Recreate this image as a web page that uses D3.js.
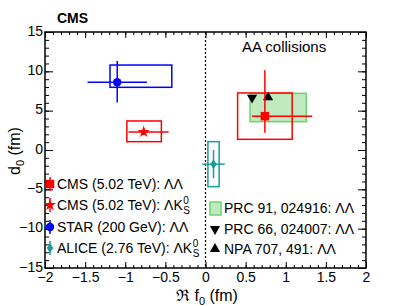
<!DOCTYPE html>
<html>
<head>
<meta charset="utf-8">
<script src="https://cdn.jsdelivr.net/npm/d3@7"></script>
<style>
  body { margin: 0; background: #fff; }
  svg text { font-family: "Liberation Sans", Arial, sans-serif; fill: #000; }
</style>
</head>
<body>
<svg id="chart" width="407" height="306"></svg>
<script>
// measurements, one entry per experiment
var labels  = ["CMS (5.02 TeV): ΛΛ", "CMS (5.02 TeV): ΛK", "STAR (200 GeV): ΛΛ", "ALICE (2.76 TeV): ΛK"];
var hasK0s  = [false, true, false, true];
var colors  = ["#ff0000", "#ff0000", "#0000ff", "#1a9c9c"];
var symbols = ["square", "star", "circle", "diamond"];
var f0      = [0.74, -0.77, -1.10, 0.10];
var d0      = [4.3, 2.3, 8.6, -1.8];
var f0StatLo = [0.16, 0.19, 0.37, 0.14];
var f0StatHi = [0.59, 0.31, 0.37, 0.14];
var d0StatLo = [2.1, 0.4, 2.55, 1.8];
var d0StatHi = [5.85, 0.5, 2.7, 1.8];
var boxF0Min = [0.40, -0.98, -1.19, 0.03];
var boxF0Max = [1.08, -0.55, -0.42, 0.17];
var boxD0Min = [1.36, 1.06, 7.97, -4.66];
var boxD0Max = [7.25, 3.69, 10.8, 1.06];

// model predictions
var modelLabels = ["PRC 91, 024916: ΛΛ", "PRC 66, 024007: ΛΛ", "NPA 707, 491: ΛΛ"];
var bandF0 = [0.555, 1.256];
var bandD0 = [3.6, 7.2];
var triF0 = [0.58, 0.78];
var triD0 = [6.65, 6.7];

// axis ticks
var xMajor = [-2, -1.5, -1, -0.5, 0, 0.5, 1, 1.5, 2];
var yMajor = [-15, -10, -5, 0, 5, 10, 15];

var svg = d3.select("#chart");
var x = d3.scaleLinear().domain([-2, 2]).range([45, 366]);
var y = d3.scaleLinear().domain([-15, 15]).range([268, 32]);

function fmt(d) { return (d < 0 ? "\u2212" : "") + Math.abs(d); }

var xMinor = d3.range(-20, 21).map(function (i) { return i / 10; });
var yMinor = d3.range(-15, 16);

// ticks on all four sides, pointing inward
svg.append("g").attr("transform", "translate(0,268)")
    .call(d3.axisBottom(x).tickValues(xMinor).tickSize(-3).tickFormat(""));
svg.append("g").attr("transform", "translate(0,268)")
    .call(d3.axisBottom(x).tickValues(xMajor).tickSize(-6).tickPadding(4).tickFormat(fmt));
svg.append("g").attr("transform", "translate(0,32)")
    .call(d3.axisTop(x).tickValues(xMinor).tickSize(-3).tickFormat(""));
svg.append("g").attr("transform", "translate(0,32)")
    .call(d3.axisTop(x).tickValues(xMajor).tickSize(-6).tickFormat(""));
svg.append("g").attr("transform", "translate(45,0)")
    .call(d3.axisLeft(y).tickValues(yMinor).tickSize(-4).tickFormat(""));
var yAx = svg.append("g").attr("transform", "translate(45,0)")
    .call(d3.axisLeft(y).tickValues(yMajor).tickSize(-8).tickPadding(2).tickFormat(fmt));
yAx.selectAll("text").attr("dy", "0.22em");
svg.append("g").attr("transform", "translate(366,0)")
    .call(d3.axisRight(y).tickValues(yMinor).tickSize(-4).tickFormat(""));
svg.append("g").attr("transform", "translate(366,0)")
    .call(d3.axisRight(y).tickValues(yMajor).tickSize(-8).tickFormat(""));

svg.selectAll(".domain").remove();
svg.selectAll(".tick line").attr("stroke", "#000").attr("stroke-width", 1);
svg.selectAll(".tick text").style("font-size", "14px").attr("fill", "#000");

svg.append("rect")
    .attr("x", x(-2)).attr("y", y(15))
    .attr("width", x(2) - x(-2)).attr("height", y(-15) - y(15))
    .attr("fill", "none").attr("stroke", "#000").attr("stroke-width", 1.5);

// dotted line at f0 = 0
svg.append("line")
    .attr("x1", x(0)).attr("x2", x(0)).attr("y1", y(15)).attr("y2", y(-15))
    .attr("stroke", "#000").attr("stroke-width", 1.2).attr("stroke-dasharray", "2,2");

// model band
svg.append("rect")
    .attr("x", x(bandF0[0])).attr("y", y(bandD0[1]))
    .attr("width", x(bandF0[1]) - x(bandF0[0]))
    .attr("height", y(bandD0[0]) - y(bandD0[1]))
    .attr("fill", "#bfeabf").attr("stroke", "#70d070").attr("stroke-width", 1.5);

// model triangles
svg.append("path")
    .attr("d", d3.symbol(d3.symbolTriangle, 45)())
    .attr("transform", "translate(" + x(triF0[0]) + "," + y(triD0[0]) + ") rotate(180)");
svg.append("path")
    .attr("d", d3.symbol(d3.symbolTriangle, 45)())
    .attr("transform", "translate(" + x(triF0[1]) + "," + y(triD0[1]) + ")");

function markerPath(s) {
    if (s == "square") return d3.symbol(d3.symbolSquare, 72)();
    if (s == "star") return d3.symbol(d3.symbolStar, 45)();
    if (s == "circle") return d3.symbol(d3.symbolCircle, 56)();
    return "M0,-5L3.2,0L0,5L-3.2,0Z";
}

var pts = d3.range(labels.length);

// systematic boxes
svg.append("g").selectAll("rect")
    .data(pts).enter().append("rect")
    .attr("x", function (i) { return x(boxF0Min[i]); })
    .attr("y", function (i) { return y(boxD0Max[i]); })
    .attr("width", function (i) { return x(boxF0Max[i]) - x(boxF0Min[i]); })
    .attr("height", function (i) { return y(boxD0Min[i]) - y(boxD0Max[i]); })
    .attr("fill", "none")
    .attr("stroke", function (i) { return colors[i]; })
    .attr("stroke-width", 1.5);

// stat errors
var err = svg.append("g").selectAll("g").data(pts).enter().append("g")
    .attr("stroke", function (i) { return colors[i]; })
    .attr("stroke-width", 1.5);
err.append("line")
    .attr("x1", function (i) { return x(f0[i] - f0StatLo[i]); })
    .attr("x2", function (i) { return x(f0[i] + f0StatHi[i]); })
    .attr("y1", function (i) { return y(d0[i]); })
    .attr("y2", function (i) { return y(d0[i]); });
err.append("line")
    .attr("x1", function (i) { return x(f0[i]); })
    .attr("x2", function (i) { return x(f0[i]); })
    .attr("y1", function (i) { return y(d0[i] - d0StatLo[i]); })
    .attr("y2", function (i) { return y(d0[i] + d0StatHi[i]); });

svg.append("g").selectAll("path").data(pts).enter().append("path")
    .attr("d", function (i) { return markerPath(symbols[i]); })
    .attr("fill", function (i) { return colors[i]; })
    .attr("transform", function (i) { return "translate(" + x(f0[i]) + "," + y(d0[i]) + ")"; });

// left legend
var legY = [184, 205, 227, 248];
pts.forEach(function (i) {
    var g = svg.append("g").attr("transform", "translate(50," + legY[i] + ")");
    g.append("line").attr("x1", 0).attr("x2", 0).attr("y1", -7).attr("y2", 7)
        .attr("stroke", colors[i]).attr("stroke-width", 1.5);
    g.append("path").attr("d", markerPath(symbols[i])).attr("fill", colors[i]);
    var t = g.append("text").attr("x", 7).attr("y", 5).style("font-size", "14px").text(labels[i]);
    if (hasK0s[i]) {
        var w = t.node().getComputedTextLength();
        g.append("text").attr("x", 7 + w + 0.5).attr("y", -1).style("font-size", "10px").text("0");
        g.append("text").attr("x", 7 + w + 0.5).attr("y", 9).style("font-size", "10px").text("S");
    }
});

// right legend
var rg = svg.append("g");
rg.append("rect").attr("x", 210).attr("y", 202).attr("width", 11).attr("height", 13)
    .attr("fill", "#bfeabf").attr("stroke", "#70d070").attr("stroke-width", 1.5);
rg.append("path").attr("d", d3.symbol(d3.symbolTriangle, 45)())
    .attr("transform", "translate(215,229) rotate(180)");
rg.append("path").attr("d", d3.symbol(d3.symbolTriangle, 45)())
    .attr("transform", "translate(215,249)");
[213, 234, 254].forEach(function (yy, i) {
    rg.append("text").attr("x", 224).attr("y", yy).style("font-size", "14px").text(modelLabels[i]);
});

// annotations
svg.append("text").attr("x", 57).attr("y", 23)
    .style("font-size", "14px").style("font-weight", "bold").text("CMS");
svg.append("text").attr("x", 242).attr("y", 52)
    .style("font-size", "15px").text("AA collisions");

// axis titles
var xt = svg.append("text").attr("x", 176).attr("y", 301).style("font-size", "16px");
xt.append("tspan").text("\u211C f");
xt.append("tspan").attr("dy", 4).style("font-size", "11px").text("0");
xt.append("tspan").attr("dy", -4).text(" (fm)");

var yt = svg.append("text").attr("transform", "translate(20,151) rotate(-90)")
    .attr("text-anchor", "middle").style("font-size", "16px");
yt.append("tspan").text("d");
yt.append("tspan").attr("dy", 4).style("font-size", "11px").text("0");
yt.append("tspan").attr("dy", -4).text(" (fm)");
</script>
</body>
</html>
